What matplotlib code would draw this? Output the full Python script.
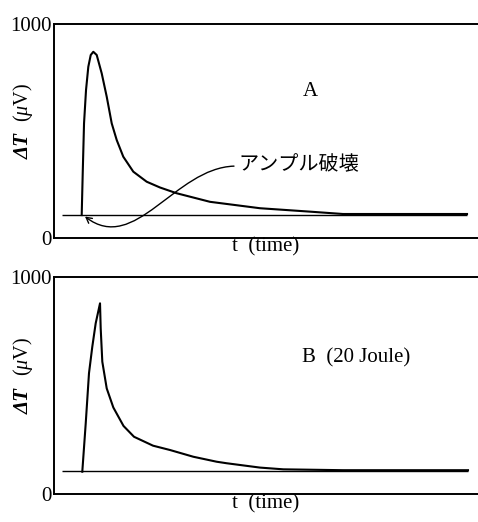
import matplotlib
matplotlib.use('Agg')
import matplotlib.pyplot as plt
from matplotlib.path import Path
from matplotlib.patches import FancyArrowPatch

plt.rcParams['font.family'] = ['Liberation Serif', 'Noto Sans CJK JP', 'DejaVu Sans']
plt.rcParams['mathtext.fontset'] = 'custom'
plt.rcParams['mathtext.rm'] = 'Liberation Serif'
plt.rcParams['mathtext.it'] = 'Liberation Serif:italic'

# ---- data (t in arbitrary units 0-100, dT in microvolt) ----
t_a = [6.53, 6.77, 7.08, 7.55, 8.09, 8.66, 9.27, 10.07, 11.25, 12.43, 13.61, 14.79,
       16.34, 18.70, 21.86, 25.0, 28.94, 36.79, 48.58, 60.38, 68.16, 97.41]
v_a = [106, 301, 535, 691, 800, 855, 870, 855, 769, 660, 535, 457,
       379, 309, 262, 235, 208, 168, 138, 122, 111, 111]
base_a_t = [1.9, 97.4]
base_a_v = [106, 106]

t_b = [6.67, 7.48, 8.25, 9.03, 9.83, 10.85, 11.01, 11.39, 12.43, 13.99, 16.39, 18.87,
       23.35, 27.36, 32.85, 38.37, 40.73, 48.58, 54.08, 68.16, 97.64]
v_b = [104, 327, 558, 680, 788, 880, 765, 611, 488, 400, 315, 265,
       224, 204, 173, 150, 143, 123, 115, 111, 111]
base_b_t = [1.9, 97.6]
base_b_v = [107, 107]

y_ticks = [0, 1000]
y_tick_labels = ['0', '1000']
x_label = 't  (time)'
y_label_sym = 'ΔT'
y_label_unit = r'($\mathit{\mu}$V)'
label_a = 'A'
label_b = 'B  (20 Joule)'
annot_text = 'アンプル破壊'

fig = plt.figure(figsize=(4.78, 5.22), dpi=100)
ax1 = fig.add_axes([0.113, 0.5446, 0.887, 0.4094])
ax2 = fig.add_axes([0.113, 0.0531, 0.887, 0.4157])

for ax, t, v, bt, bv in [(ax1, t_a, v_a, base_a_t, base_a_v),
                         (ax2, t_b, v_b, base_b_t, base_b_v)]:
    ax.plot(bt, bv, color='black', lw=1.0, solid_capstyle='butt')
    ax.plot(t, v, color='black', lw=1.5, solid_joinstyle='round')
    ax.set_xlim(0, 100)
    ax.set_ylim(0, 1000)
    ax.set_xticks([])
    ax.set_yticks(y_ticks)
    ax.set_yticklabels(y_tick_labels)
    ax.tick_params(axis='y', length=0, pad=2, labelsize=15)
    ax.spines['right'].set_visible(False)
    for s in ['left', 'top', 'bottom']:
        ax.spines[s].set_linewidth(1.4)
    ax.set_xlabel(x_label, fontsize=15, labelpad=0)
    ax.text(-0.072, 0.43, y_label_sym, transform=ax.transAxes, rotation=90,
            ha='center', va='center', fontsize=15, fontstyle='italic',
            fontweight='bold')
    ax.text(-0.072, 0.635, y_label_unit, transform=ax.transAxes, rotation=90,
            ha='center', va='center', fontsize=14.5)

ax1.text(60.4, 683, label_a, fontsize=15, ha='center', va='center')
ax2.text(58.4, 627, label_b, fontsize=15, ha='left', va='center')

ax1.text(43.4, 340, annot_text, fontsize=14.5, ha='left', va='center',
         family=['Noto Sans CJK JP'])
arrow_path = Path([(42.45, 335), (28.5, 326), (19.1, -81), (7.31, 99)],
                  [Path.MOVETO, Path.CURVE4, Path.CURVE4, Path.CURVE4])
arr = FancyArrowPatch(path=arrow_path, arrowstyle='->,head_length=4,head_width=2.2',
                      lw=1.0, color='black', transform=ax1.transData,
                      shrinkA=0, shrinkB=0)
ax1.add_patch(arr)

fig.savefig('out.png', dpi=100)
